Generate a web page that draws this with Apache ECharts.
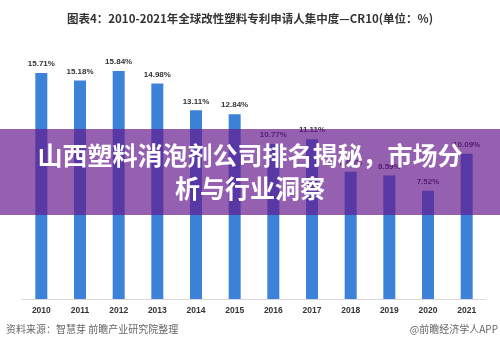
<!DOCTYPE html>
<html><head><meta charset="utf-8">
<script src="https://cdn.jsdelivr.net/npm/echarts@6/dist/echarts.min.js"></script>
<style>html,body{margin:0;padding:0;background:#fff}#c{width:500px;height:346px}</style>
</head><body><div id="c"></div>
<script>
const years = ['2010','2011','2012','2013','2014','2015','2016','2017','2018','2019','2020','2021'];
const cr10 = [15.71,15.18,15.84,14.98,13.11,12.84,10.77,11.11,8.84,8.59,7.52,10.09];
const titleText = '图表4：2010-2021年全球改性塑料专利申请人集中度—CR10(单位：%)';
const bannerLine1 = '山西塑料消泡剂公司排名揭秘，市场分';
const bannerLine2 = '析与行业洞察';
const sourceText = '资料来源：智慧芽 前瞻产业研究院整理';
const brandText = '@前瞻经济学人APP';

const chart = echarts.init(document.getElementById('c'));
const font = '"Noto Sans CJK SC", "Noto Sans", sans-serif';
chart.setOption({
  animation: false,
  title: {text: titleText, left: 'center', top: 8,
    textStyle: {fontSize: 11.5, fontWeight: 'bold', color: '#333', fontFamily: font}},
  grid: {left: 22, right: 14, top: 40, bottom: 47},
  xAxis: {type: 'category', data: years,
    axisLine: {lineStyle: {color: '#d9d9d9'}}, axisTick: {show: false},
    axisLabel: {fontSize: 8.5, fontWeight: 'bold', color: '#333', margin: 7, fontFamily: 'Liberation Sans, Arial'}},
  yAxis: {type: 'value', min: 0, max: 18, show: false, splitLine: {show: false}},
  series: [{type: 'bar', data: cr10, barWidth: 12,
    itemStyle: {color: '#3b82d8'},
    label: {show: true, position: 'top', distance: 5, formatter: p => p.value.toFixed(2) + '%',
      fontSize: 8, fontWeight: 'bold', color: '#333', fontFamily: 'Liberation Sans, Arial'}}],
  graphic: [
    {type: 'rect', z: 100, shape: {x: 0, y: 129, width: 500, height: 86},
      style: {fill: 'rgba(100,20,140,0.68)'}},
    {type: 'text', z: 101, left: 'center', top: 143,
      style: {text: bannerLine1, fill: '#fff', font: 'bold 25px "Noto Sans CJK SC"'}},
    {type: 'text', z: 101, left: 'center', top: 176,
      style: {text: bannerLine2, fill: '#fff', font: 'bold 25px "Noto Sans CJK SC"'}},
    {type: 'text', left: 6, top: 324,
      style: {text: sourceText, fill: '#666', font: '10px "Noto Sans CJK SC"'}},
    {type: 'text', right: 2, top: 324,
      style: {text: brandText, fill: '#666', font: '10px "Noto Sans CJK SC"'}}
  ]
});
</script></body></html>
